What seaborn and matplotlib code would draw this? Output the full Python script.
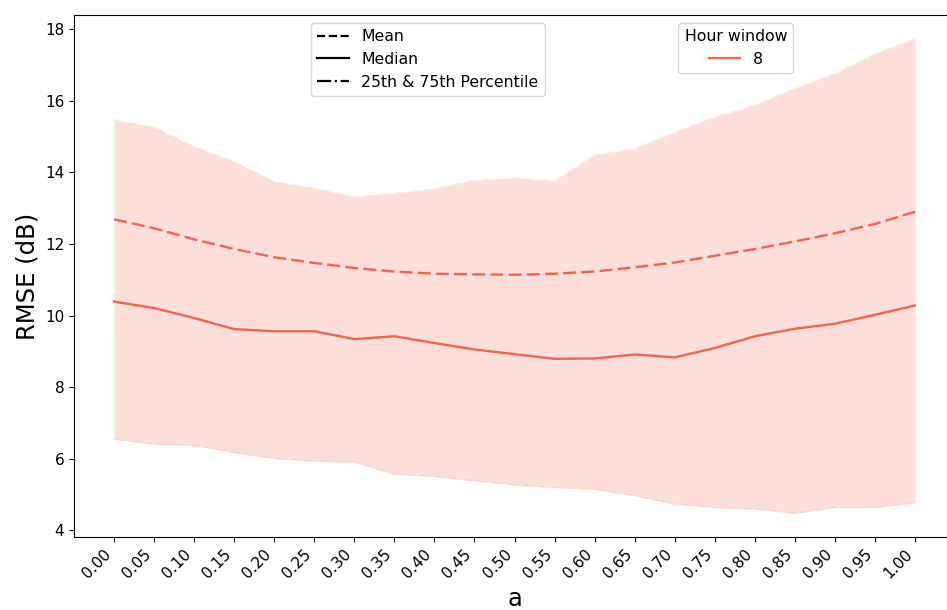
import numpy as np
import pandas as pd
import matplotlib
matplotlib.use("Agg")
import matplotlib.pyplot as plt
from matplotlib.lines import Line2D
import seaborn as sns

# smoothing factor a and RMSE statistics for the 8-hour window
a_values = [0.00, 0.05, 0.10, 0.15, 0.20, 0.25, 0.30, 0.35, 0.40, 0.45, 0.50,
            0.55, 0.60, 0.65, 0.70, 0.75, 0.80, 0.85, 0.90, 0.95, 1.00]
mean_rmse = [12.69, 12.44, 12.13, 11.86, 11.63, 11.47, 11.33, 11.23, 11.17, 11.15, 11.14,
             11.17, 11.23, 11.35, 11.48, 11.67, 11.86, 12.07, 12.30, 12.56, 12.90]
median_rmse = [10.39, 10.21, 9.93, 9.62, 9.56, 9.56, 9.34, 9.42, 9.23, 9.05, 8.92,
               8.79, 8.80, 8.91, 8.83, 9.09, 9.42, 9.63, 9.77, 10.02, 10.28]
p25_rmse = [6.54, 6.40, 6.37, 6.17, 6.00, 5.93, 5.90, 5.56, 5.50, 5.38, 5.26,
            5.19, 5.14, 4.96, 4.73, 4.63, 4.59, 4.47, 4.63, 4.63, 4.77]
p75_rmse = [15.46, 15.27, 14.72, 14.30, 13.74, 13.56, 13.32, 13.42, 13.54, 13.79, 13.84,
            13.77, 14.49, 14.67, 15.13, 15.55, 15.88, 16.35, 16.76, 17.32, 17.74]
hour_windows = [8]
tick_labels = [f"{v:.2f}" for v in a_values]

color = "#f5634a"

df = pd.DataFrame({
    "a": a_values * 2,
    "RMSE": mean_rmse + median_rmse,
    "stat": ["Mean"] * len(a_values) + ["Median"] * len(a_values),
    "Hour window": [hour_windows[0]] * (2 * len(a_values)),
})

fig = plt.figure(figsize=(9.47, 6.10), dpi=100)
ax = fig.add_axes([74 / 947, 73 / 610, 881 / 947, 522 / 610])

# interquartile band with faint dash-dot edges
ax.fill_between(a_values, p25_rmse, p75_rmse, color=color, alpha=0.2, linewidth=0)
ax.plot(a_values, p25_rmse, color=color, linestyle="-.", alpha=0.12, linewidth=1)
ax.plot(a_values, p75_rmse, color=color, linestyle="-.", alpha=0.12, linewidth=1)

sns.lineplot(data=df, x="a", y="RMSE", hue="Hour window", style="stat",
             palette=[color], dashes={"Mean": (5.5, 2.2), "Median": ""},
             linewidth=1.7, legend=False, ax=ax)

ax.set_xticks(a_values)
ax.set_xticklabels(tick_labels, rotation=45, ha="right")
ax.tick_params(labelsize=11)
ax.set_xlabel("a", fontsize=17.5)
ax.set_ylabel("RMSE (dB)", fontsize=17.5)
ax.margins(x=0.05, y=0.05)

style_handles = [
    Line2D([], [], color="black", linestyle="--", linewidth=1.6),
    Line2D([], [], color="black", linestyle="-", linewidth=1.6),
    Line2D([], [], color="black", linestyle="-.", linewidth=1.6),
]
leg1 = ax.legend(style_handles, ["Mean", "Median", "25th & 75th Percentile"],
                 loc="upper left", bbox_to_anchor=(0.260, 1.0), fontsize=11.3)
ax.add_artist(leg1)

hue_handles = [Line2D([], [], color=color, linewidth=1.6)]
ax.legend(hue_handles, [str(h) for h in hour_windows], title="Hour window",
          loc="upper left", bbox_to_anchor=(0.677, 1.0), fontsize=11.3,
          title_fontsize=11.3)

fig.savefig("out.png", dpi=100)
